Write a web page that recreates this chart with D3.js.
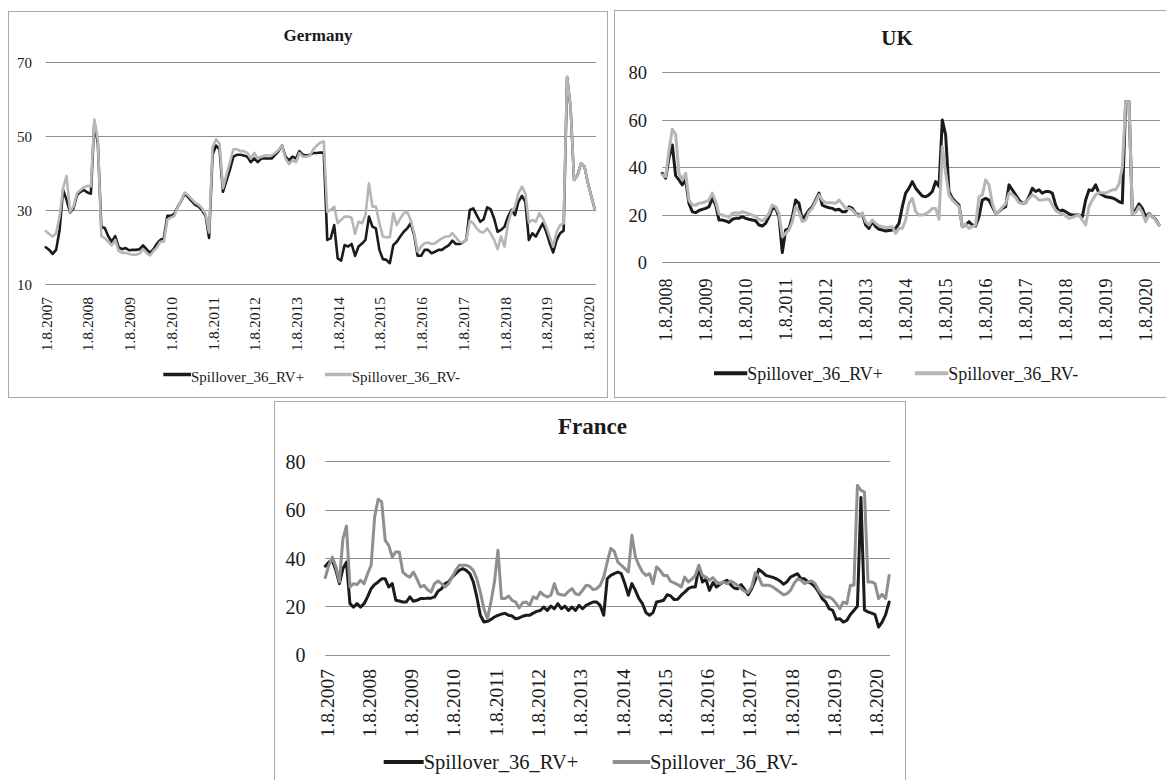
<!DOCTYPE html>
<html>
<head>
<meta charset="utf-8">
<script src="https://cdn.jsdelivr.net/npm/d3@7/dist/d3.min.js"></script>
<style>
  html, body { margin: 0; padding: 0; background: #ffffff; }
  svg { display: block; font-family: "Liberation Serif", "Times New Roman", serif; }
</style>
</head>
<body>
<svg id="chart" width="1166" height="780"></svg>
<script>
// ---- Series names ----
const seriesNames = ["Spillover_36_RV+", "Spillover_36_RV-"];

// ---- Germany: monthly values from 1.8.2007 ----
const germanyPos = [
  20.0, 19.3, 18.2, 19.3, 24.7, 35.5, 32.8, 29.4, 30.5, 34.1, 35.0, 35.5, 34.8, 34.5, 54.0, 48.0,
  25.5, 25.2, 23.0, 21.5, 23.0, 20.0, 19.5, 19.8, 19.2, 19.3, 19.3, 19.5, 20.5, 19.5, 18.5, 19.5,
  21.0, 22.0, 22.5, 28.5, 28.5, 29.0, 31.0, 32.5, 34.5, 33.5, 32.5, 31.5, 31.0, 30.0, 28.5, 22.5,
  45.0, 47.5, 46.5, 35.0, 38.0, 41.0, 44.5, 45.0, 45.0, 44.8, 44.5, 43.0, 44.0, 43.0, 44.0, 44.0,
  44.0, 44.0, 45.0, 46.0, 47.5, 44.5, 43.5, 44.5, 44.0, 46.0, 45.0, 44.8, 45.0, 45.5, 45.5, 45.6,
  45.6, 22.0, 22.4, 26.0, 17.0, 16.4, 20.6, 20.2, 20.9, 17.7, 20.2, 21.0, 22.0, 28.3, 25.6, 25.1,
  19.3, 16.8, 16.6, 15.7, 20.6, 21.5, 22.9, 24.2, 25.1, 26.5, 23.3, 17.7, 17.7, 19.3, 19.3, 18.4,
  18.8, 19.3, 19.3, 20.0, 20.6, 21.8, 20.9, 20.9, 21.3, 22.0, 30.1, 30.5, 28.7, 26.9, 27.6, 30.8,
  30.3, 27.8, 24.2, 24.7, 25.6, 28.3, 30.1, 28.7, 32.3, 33.9, 32.3, 22.0, 23.8, 22.9, 24.7, 26.5,
  24.2, 21.1, 18.6, 22.0, 23.8, 24.5, 66.0, 57.8, 38.2, 39.5, 42.7, 41.8, 37.3, 33.7, 30.1
];
const germanyNeg = [
  24.4, 23.6, 22.9, 23.8, 28.3, 36.0, 39.3, 29.6, 31.0, 34.6, 35.5, 36.2, 36.6, 36.5, 54.5, 49.0,
  23.0, 22.5, 21.5, 20.5, 22.0, 19.0, 18.5, 18.5, 18.2, 18.0, 18.0, 18.3, 19.5, 18.5, 17.8, 19.0,
  20.0, 21.5, 21.5, 27.5, 28.0, 28.5, 31.0, 32.5, 34.8, 34.0, 33.0, 32.0, 31.5, 30.5, 29.0, 24.0,
  47.0, 49.2, 48.0, 36.0, 39.5, 43.0, 46.5, 46.5, 46.0, 46.0, 45.5, 44.0, 45.5, 44.0, 44.5, 44.8,
  44.8, 44.8, 45.5, 46.3, 47.5, 44.0, 42.5, 43.5, 43.0, 45.5, 44.5, 44.5, 44.8, 46.5, 47.5, 48.3,
  48.6, 29.6, 30.1, 31.0, 26.5, 27.4, 28.3, 28.3, 28.0, 23.6, 26.9, 26.5, 28.7, 37.3, 31.0, 31.0,
  26.5, 22.9, 22.7, 22.7, 29.2, 26.0, 27.8, 29.2, 29.6, 27.4, 23.8, 18.8, 20.2, 21.1, 21.3, 20.9,
  21.1, 21.8, 22.4, 22.9, 22.9, 23.8, 22.7, 21.5, 21.3, 22.0, 27.2, 26.5, 25.1, 24.2, 24.0, 25.1,
  23.8, 22.0, 19.5, 22.9, 20.2, 26.5, 29.6, 31.0, 34.6, 36.4, 34.6, 26.7, 27.4, 26.9, 29.2, 27.8,
  25.6, 22.9, 20.2, 24.2, 26.0, 26.5, 66.0, 58.0, 38.2, 39.5, 42.7, 41.8, 37.3, 33.7, 30.1
];

// ---- UK: monthly values from 1.8.2008 ----
const ukPos = [
  37.5, 35.4, 44.0, 49.4, 36.5, 34.7, 32.6, 34.7, 24.8, 21.3, 20.9, 21.8, 22.3, 22.7, 23.4,
  27.0, 24.1, 17.8, 17.8, 17.4, 16.8, 18.1, 18.5, 18.5, 19.2, 18.5, 18.1, 17.8, 17.5, 15.7,
  15.3, 16.4, 19.2, 22.7, 22.7, 19.2, 4.1, 13.6, 14.3, 19.2, 26.2, 24.8, 17.8, 19.9, 22.0,
  23.4, 26.2, 29.1, 24.1, 23.4, 23.0, 22.7, 22.0, 22.3, 21.3, 21.3, 23.4, 22.7, 20.6, 19.9,
  20.4, 15.7, 14.3, 17.1, 15.0, 13.9, 13.6, 13.2, 13.4, 13.6, 14.3, 16.4, 23.4, 29.1, 31.2,
  34.0, 31.2, 29.5, 27.9, 27.6, 28.4, 29.8, 34.0, 31.9, 59.9, 53.6, 29.8, 26.9, 25.5, 24.1,
  15.0, 15.7, 17.1, 15.7, 15.3, 19.2, 26.2, 26.9, 26.2, 23.4, 20.6, 21.3, 22.7, 23.4, 32.6,
  30.5, 28.4, 26.2, 24.8, 25.1, 27.6, 31.2, 29.8, 30.5, 29.1, 29.8, 29.8, 29.1, 24.1, 21.3,
  22.0, 21.3, 20.4, 19.9, 19.9, 19.9, 19.2, 26.2, 30.5, 30.2, 32.6, 29.1, 28.4, 27.6, 27.4,
  27.1, 26.5, 25.5, 25.0, 67.6, 67.6, 20.6, 22.0, 24.6, 22.7, 19.2, 20.6, 19.2, 18.1, 15.7
];
const ukNeg = [
  36.8, 36.0, 47.0, 56.0, 54.0, 37.5, 34.7, 37.5, 26.2, 24.1, 24.1, 24.8, 25.1, 25.5, 26.2,
  29.1, 25.5, 20.4, 19.9, 19.5, 18.9, 20.6, 20.9, 20.6, 21.3, 20.9, 20.4, 19.9, 19.2, 18.1,
  17.5, 18.5, 20.6, 24.1, 23.4, 20.6, 10.8, 12.2, 13.6, 17.1, 23.4, 21.3, 17.1, 17.8, 21.3,
  22.7, 25.5, 28.4, 26.2, 25.1, 25.1, 25.1, 24.8, 26.2, 24.6, 22.7, 22.7, 22.0, 20.4, 19.2,
  20.9, 17.1, 15.7, 17.8, 16.4, 15.4, 15.0, 14.7, 14.8, 15.0, 12.2, 14.3, 14.3, 17.8, 24.8,
  26.9, 21.3, 19.9, 19.9, 20.4, 21.3, 22.7, 22.7, 18.1, 48.7, 37.5, 28.4, 26.2, 24.8, 23.4,
  15.0, 16.1, 14.3, 15.0, 15.7, 27.6, 28.4, 34.7, 32.6, 24.8, 20.6, 21.3, 23.2, 24.6, 29.1,
  28.6, 27.2, 25.1, 24.8, 25.1, 26.9, 28.4, 27.6, 26.2, 26.2, 26.5, 26.5, 24.1, 21.8, 20.9,
  20.4, 19.5, 18.5, 18.9, 19.5, 19.9, 17.8, 15.7, 23.4, 26.2, 28.4, 29.3, 29.3, 29.1, 29.8,
  30.5, 30.5, 33.0, 40.0, 67.6, 67.6, 20.6, 20.9, 23.4, 20.9, 17.1, 20.4, 19.2, 17.8, 15.7
];

// ---- France: monthly values from 1.8.2007 ----
const francePos = [
  36.6, 38.3, 39.0, 34.9, 29.4, 35.6, 38.3, 21.1, 19.7, 21.1, 19.7, 21.1, 23.9, 27.3, 29.0, 30.1,
  31.4, 31.4, 28.0, 29.4, 22.5, 22.2, 21.8, 21.8, 23.9, 22.1, 22.5, 23.2, 23.2, 23.4, 23.4, 23.9,
  26.3, 27.3, 29.4, 30.1, 32.1, 33.5, 34.9, 35.6, 34.9, 33.5, 30.1, 23.9, 16.3, 13.5, 13.8, 14.6,
  15.6, 16.3, 16.8, 17.1, 16.3, 16.0, 14.9, 15.2, 15.9, 16.3, 16.3, 17.2, 17.9, 18.3, 19.7, 18.3,
  20.1, 19.0, 21.1, 19.0, 20.1, 18.3, 19.7, 18.3, 20.4, 19.0, 20.4, 21.1, 21.8, 21.8, 20.4, 16.3,
  31.4, 32.8, 33.5, 34.2, 33.5, 29.4, 24.6, 29.4, 26.6, 23.2, 21.1, 17.4, 16.3, 17.4, 21.8, 22.1,
  22.5, 24.8, 24.3, 22.8, 22.9, 24.6, 25.9, 27.3, 28.0, 28.0, 36.3, 30.1, 31.2, 26.6, 29.8, 28.0,
  29.1, 30.1, 30.8, 29.0, 27.6, 27.3, 29.0, 27.0, 24.8, 27.3, 30.8, 35.3, 34.2, 32.8, 32.4, 32.0,
  31.4, 30.5, 29.2, 30.1, 32.1, 32.8, 33.5, 31.4, 31.4, 30.1, 29.4, 28.0, 25.9, 23.2, 21.8, 19.0,
  18.3, 14.6, 14.9, 13.5, 14.2, 16.6, 18.3, 20.0, 65.0, 18.5, 17.7, 17.2, 16.6, 11.4, 13.5, 16.6, 21.8
];
const franceNeg = [
  31.9, 37.0, 40.4, 36.3, 30.1, 48.0, 53.2, 28.0, 29.4, 29.0, 30.8, 29.4, 33.5, 37.0, 57.0, 64.3,
  63.2, 47.3, 45.2, 40.4, 42.5, 42.5, 34.2, 32.8, 32.1, 34.2, 31.4, 28.0, 28.7, 26.9, 25.9, 29.4,
  30.5, 29.4, 28.0, 29.4, 32.1, 34.9, 37.0, 37.0, 37.0, 36.3, 34.9, 31.4, 25.9, 19.0, 14.9, 21.8,
  30.1, 43.2, 23.2, 23.2, 24.3, 22.5, 21.8, 19.3, 21.5, 21.8, 20.4, 23.9, 23.2, 25.9, 24.6, 23.9,
  24.6, 29.4, 25.2, 24.8, 24.6, 26.2, 27.3, 25.2, 24.8, 26.6, 28.7, 28.4, 26.9, 27.3, 28.7, 32.1,
  38.3, 43.9, 42.8, 38.3, 37.0, 35.6, 34.2, 49.4, 40.4, 37.0, 34.2, 32.8, 33.5, 29.4, 36.3, 34.9,
  32.8, 32.8, 30.3, 29.7, 29.0, 28.0, 32.1, 30.1, 31.2, 32.8, 37.0, 32.8, 32.1, 30.8, 31.9, 30.1,
  29.4, 30.1, 29.4, 30.5, 29.7, 28.7, 27.3, 26.2, 25.7, 28.0, 33.9, 32.1, 28.7, 28.7, 28.7, 28.0,
  27.0, 25.9, 24.8, 25.2, 26.6, 29.4, 31.4, 30.8, 29.4, 30.1, 30.5, 29.4, 26.6, 24.8, 23.9, 23.9,
  22.9, 21.1, 19.0, 21.8, 21.1, 28.7, 28.7, 70.0, 68.0, 67.3, 30.1, 30.1, 29.4, 23.2, 25.0, 23.2, 32.8
];

// ---- Value-axis ticks ----
const germanyTicks = [10, 30, 50, 70];
const ukTicks = [0, 20, 40, 60, 80];
const franceTicks = [0, 20, 40, 60, 80];

// Category labels "1.M.YYYY" for consecutive months
function monthCategories(year, month, n) {
  const out = [];
  for (let i = 0; i < n; i++) {
    const m = (month - 1 + i) % 12 + 1;
    const y = year + Math.floor((month - 1 + i) / 12);
    out.push("1." + m + "." + y);
  }
  return out;
}
const germanyCats = monthCategories(2007, 8, germanyPos.length);
const ukCats = monthCategories(2008, 8, ukPos.length);
const franceCats = monthCategories(2007, 8, francePos.length);

const svg = d3.select("#chart");
const BLACK = "#1b1b1b";
const GRID = "#8e8e8e";

function drawPanel(p) {
  const g = svg.append("g");

  // outer frame
  g.append("rect")
    .attr("x", p.box[0] + 0.5).attr("y", p.box[1] + 0.5)
    .attr("width", p.box[2]).attr("height", p.box[3])
    .attr("fill", "#fff").attr("stroke", "#a8a8a8").attr("stroke-width", 1);

  const x = d3.scalePoint().domain(p.cats).range([p.x0, p.x1]);
  const y = d3.scaleLinear().domain(p.yDomain).range([p.yBottom, p.yTop]);

  // gridlines
  g.append("g").selectAll("line").data(p.ticks).join("line")
    .attr("x1", p.x0).attr("x2", p.x1 + 1)
    .attr("y1", d => Math.round(y(d)) + 0.5).attr("y2", d => Math.round(y(d)) + 0.5)
    .attr("stroke", GRID).attr("stroke-width", 1);

  // value axis labels
  const yAxis = d3.axisLeft(y).tickValues(p.ticks).tickSize(0).tickPadding(0);
  const ya = g.append("g").attr("transform", `translate(${p.yLabelX},0)`).call(yAxis);
  ya.select(".domain").remove();
  ya.selectAll("text")
    .attr("fill", "#1a1a1a").attr("font-size", p.yFont)
    .attr("font-family", "Liberation Serif, Times New Roman, serif")
    .attr("dy", "0.36em");

  // category labels, one per year, rotated
  const labelCats = p.cats.filter((d, i) => i % 12 === 0);
  g.append("g").selectAll("text").data(labelCats).join("text")
    .attr("transform", d => `translate(${x(d) + p.xLabelShift},${p.xLabelTop}) rotate(-90)`)
    .attr("text-anchor", "end")
    .attr("dy", "0.34em")
    .attr("font-size", p.xFont)
    .attr("fill", "#1a1a1a")
    .text(d => d);

  // series lines
  const line = (vals) => d3.line()
    .x((d, i) => x(p.cats[i]))
    .y(d => y(d))(vals);
  g.append("path").attr("d", line(p.pos))
    .attr("fill", "none").attr("stroke", BLACK).attr("stroke-width", p.lw)
    .attr("stroke-linejoin", "round").attr("stroke-linecap", "round");
  g.append("path").attr("d", line(p.neg))
    .attr("fill", "none").attr("stroke", p.gray).attr("stroke-width", p.lw)
    .attr("stroke-linejoin", "round").attr("stroke-linecap", "round");

  // title
  g.append("text")
    .attr("x", p.title[1]).attr("y", p.title[2])
    .attr("text-anchor", "middle").attr("font-weight", "bold")
    .attr("font-size", p.titleFont).attr("fill", "#1a1a1a")
    .text(p.title[0]);

  // legend
  const colors = [BLACK, p.gray];
  p.legend.forEach((it, k) => {
    g.append("line")
      .attr("x1", it[0]).attr("x2", it[1])
      .attr("y1", p.legendY).attr("y2", p.legendY)
      .attr("stroke", colors[k]).attr("stroke-width", p.legendLw);
    g.append("text")
      .attr("x", it[1]).attr("y", p.legendBase)
      .attr("font-size", p.legendFont).attr("fill", "#1a1a1a")
      .text(seriesNames[k]);
  });
}

drawPanel({
  box: [8, 11, 599, 386],
  cats: germanyCats, pos: germanyPos, neg: germanyNeg,
  x0: 45.7, x1: 45.7 + 3.476 * (germanyPos.length - 1),
  yDomain: [10, 70], yBottom: 284.3, yTop: 62.3, ticks: germanyTicks,
  yLabelX: 32, yFont: 15,
  xLabelTop: 297, xLabelShift: 0.8, xFont: 15.5,
  gray: "#b6b6b6", lw: 2.6,
  title: ["Germany", 318, 40.5], titleFont: 17,
  legend: [[163.3, 191], [325, 351.7]], legendY: 374.5, legendBase: 381.5,
  legendFont: 15, legendLw: 3.5
});

drawPanel({
  box: [614, 10, 580, 387],
  cats: ukCats, pos: ukPos, neg: ukNeg,
  x0: 662.3, x1: 1159,
  yDomain: [0, 80], yBottom: 262.3, yTop: 72.3, ticks: ukTicks,
  yLabelX: 647, yFont: 18.5,
  xLabelTop: 278.5, xLabelShift: 3.2, xFont: 18,
  gray: "#b6b6b6", lw: 3,
  title: ["UK", 897, 45], titleFont: 21,
  legend: [[714, 747.3], [915, 948.3]], legendY: 373.3, legendBase: 380,
  legendFont: 18, legendLw: 4
});

drawPanel({
  box: [274, 401, 631, 390],
  cats: franceCats, pos: francePos, neg: franceNeg,
  x0: 325.3, x1: 325.3 + 3.524 * (francePos.length - 1),
  yDomain: [0, 80], yBottom: 654.7, yTop: 461.3, ticks: franceTicks,
  yLabelX: 305.5, yFont: 20,
  xLabelTop: 669, xLabelShift: 1.6, xFont: 19.5,
  gray: "#8f8f8f", lw: 3,
  title: ["France", 592.5, 434.3], titleFont: 23,
  legend: [[383.7, 423.7], [612.7, 650]], legendY: 762, legendBase: 768.5,
  legendFont: 20.5, legendLw: 4
});
</script>
</body>
</html>
